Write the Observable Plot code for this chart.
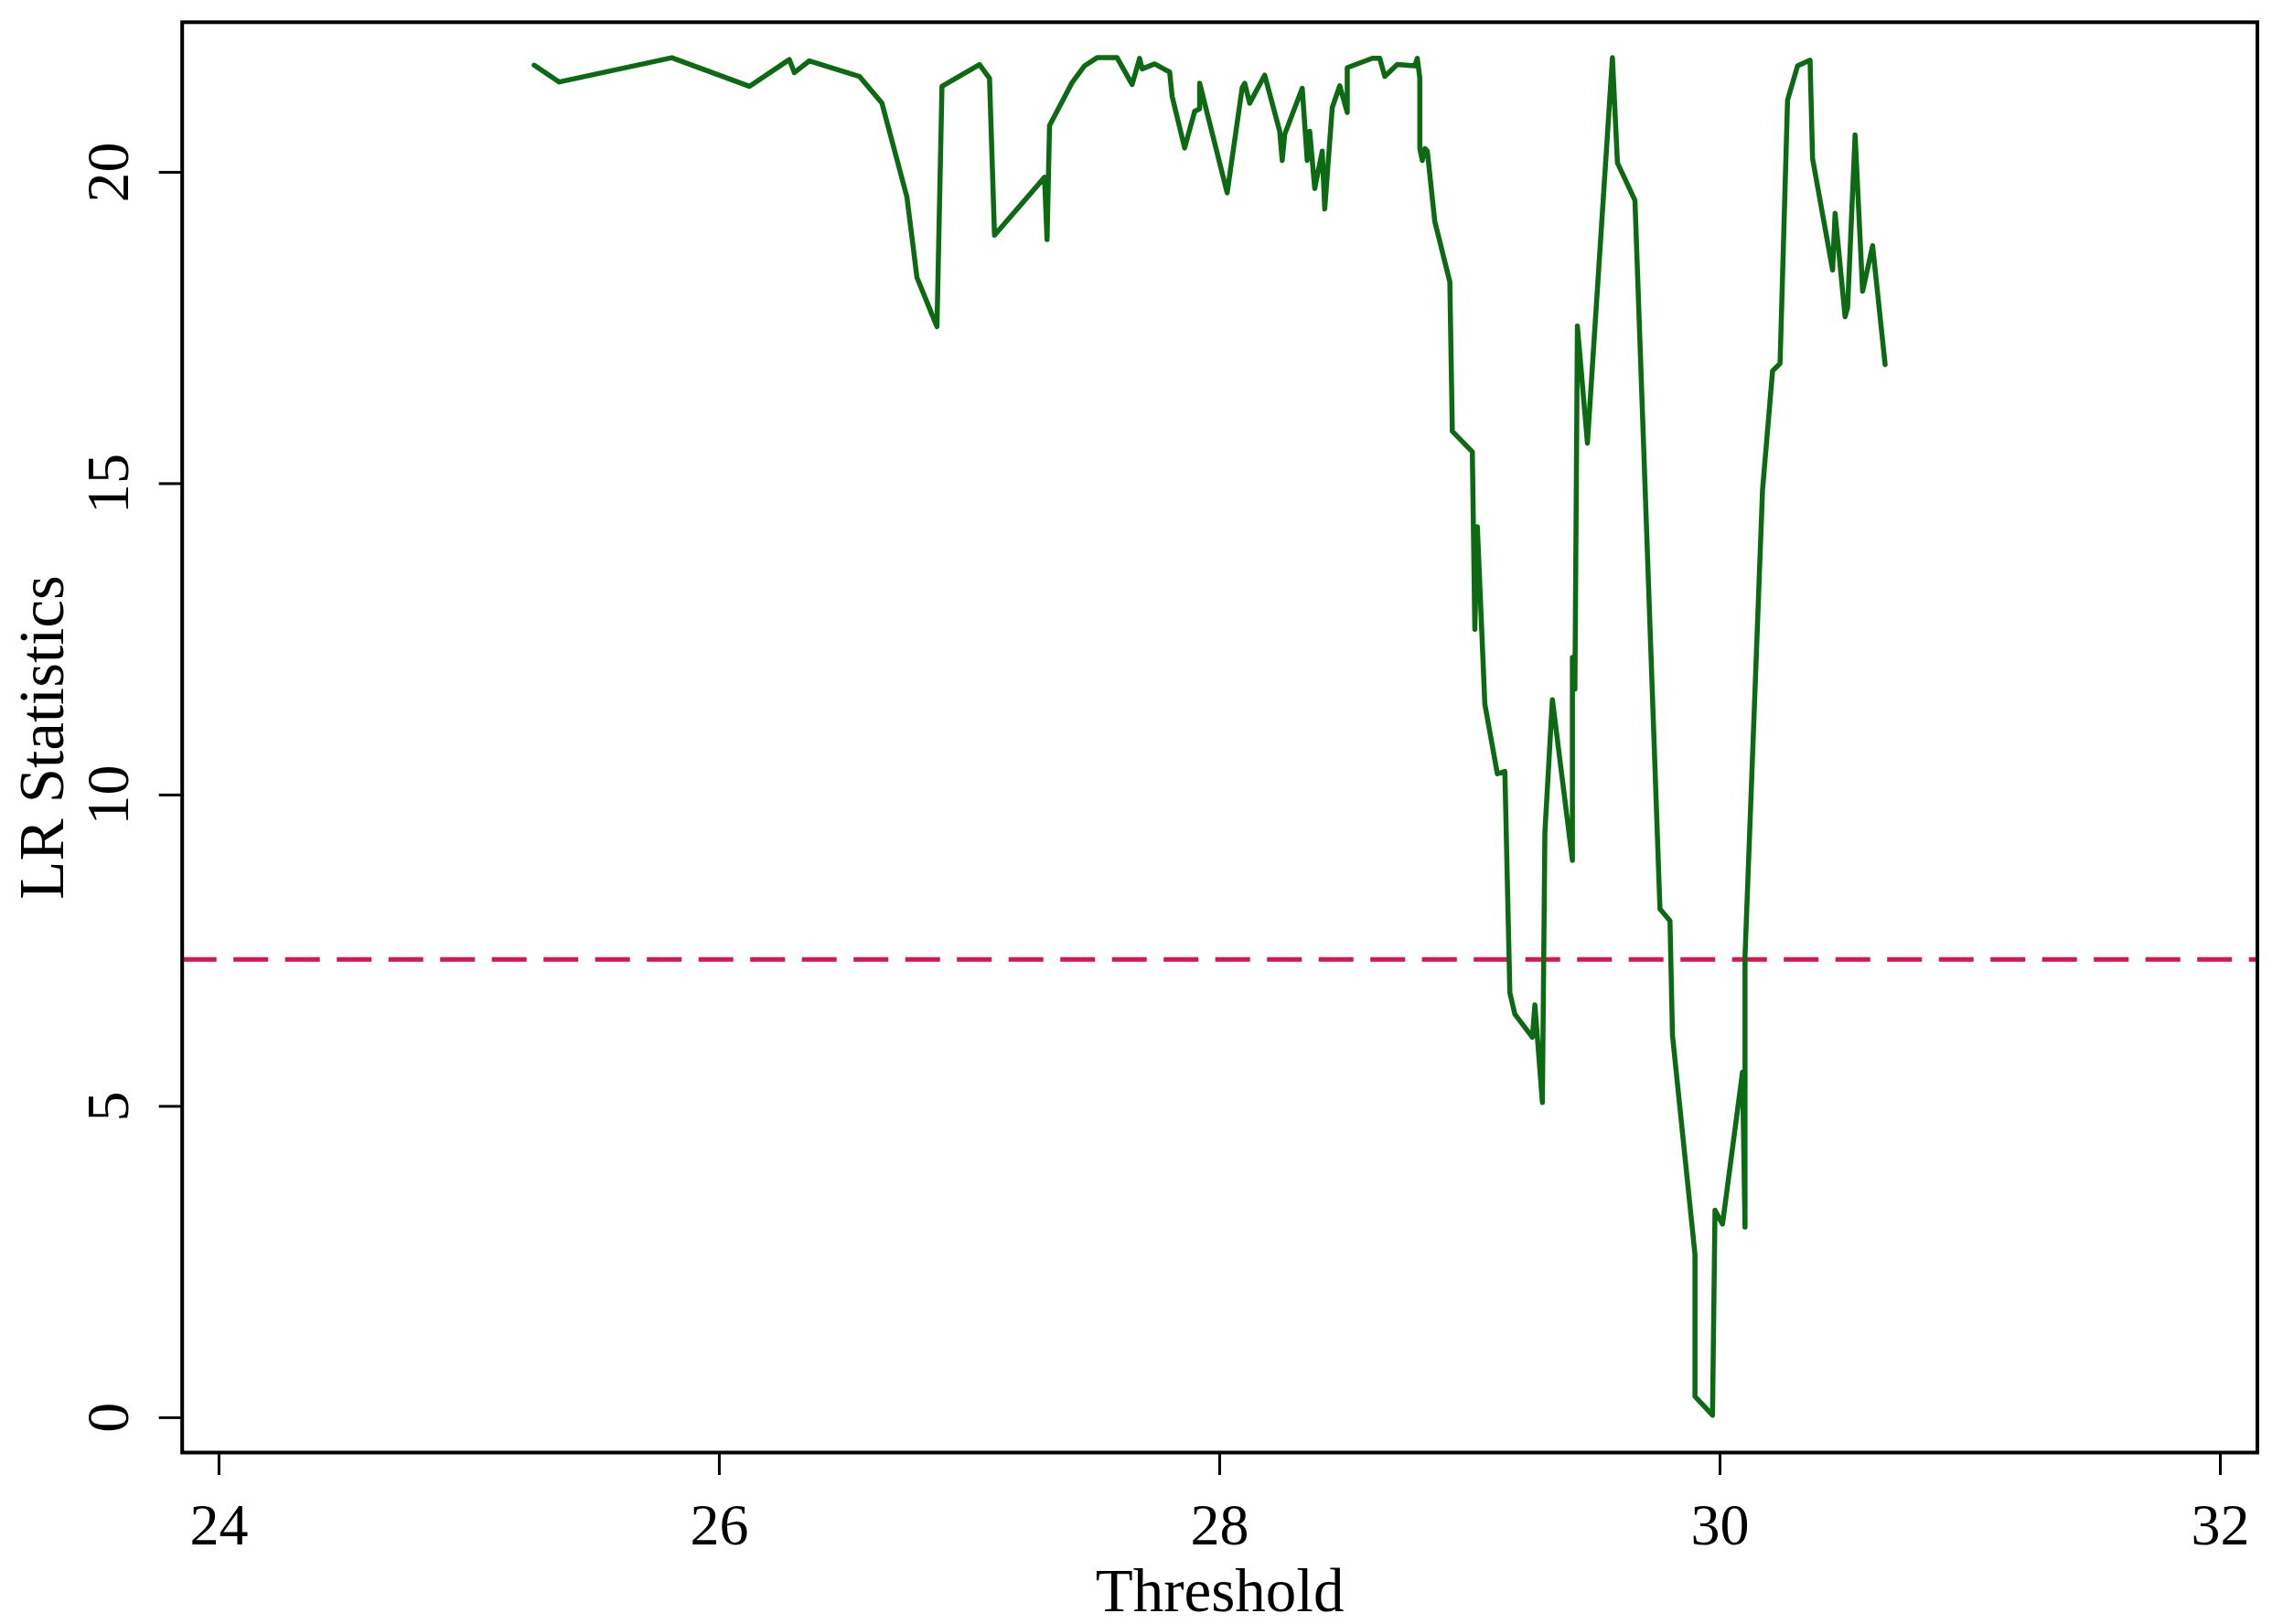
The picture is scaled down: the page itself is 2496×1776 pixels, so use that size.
<!DOCTYPE html>
<html>
<head>
<meta charset="utf-8">
<script src="https://cdn.jsdelivr.net/npm/d3@7"></script>
<script src="https://cdn.jsdelivr.net/npm/@observablehq/plot@0.6"></script>
<style>
  html, body { margin: 0; padding: 0; background: #ffffff; }
  svg { display: block; }
</style>
</head>
<body>
<div id="chart"></div>
<script>
// Threshold values (x) and LR statistics (y)
const threshold = [
  25.26, 25.36, 25.81, 26.12, 26.28, 26.30, 26.36, 26.56, 26.65, 26.75,
  26.79, 26.87, 26.89, 27.04, 27.08, 27.10, 27.30, 27.31, 27.32, 27.41,
  27.46, 27.51, 27.59, 27.65, 27.68, 27.69, 27.74, 27.80, 27.81, 27.86,
  27.90, 27.92, 27.92, 28.03, 28.09, 28.10, 28.12, 28.18, 28.24, 28.25,
  28.26, 28.33, 28.35, 28.36, 28.38, 28.41, 28.42, 28.45, 28.48, 28.51,
  28.51, 28.61, 28.64, 28.66, 28.71, 28.78, 28.79, 28.80, 28.80, 28.81,
  28.82, 28.83, 28.86, 28.92, 28.93, 29.01, 29.02, 29.03, 29.06, 29.11,
  29.14, 29.16, 29.18, 29.25, 29.26, 29.29, 29.30, 29.33, 29.41, 29.41,
  29.42, 29.43, 29.47, 29.51, 29.57, 29.59, 29.66, 29.76, 29.80, 29.81,
  29.90, 29.90, 29.97, 29.98, 30.01, 30.09, 30.10, 30.10, 30.17, 30.21,
  30.24, 30.27, 30.31, 30.36, 30.37, 30.45, 30.46, 30.50, 30.51, 30.54,
  30.57, 30.61, 30.66
];
const lrStat = [
  21.72, 21.45, 21.84, 21.38, 21.81, 21.60, 21.79, 21.54, 21.11, 19.60,
  18.31, 17.52, 21.38, 21.73, 21.51, 18.99, 19.92, 18.92, 20.75, 21.44,
  21.71, 21.84, 21.84, 21.41, 21.83, 21.66, 21.74, 21.61, 21.22, 20.39,
  20.98, 21.02, 21.43, 19.67, 21.36, 21.43, 21.11, 21.56, 20.66, 20.19,
  20.61, 21.35, 20.19, 20.66, 19.74, 20.34, 19.41, 21.04, 21.39, 20.96,
  21.68, 21.83, 21.83, 21.54, 21.73, 21.71, 21.83, 21.51, 20.38, 20.19,
  20.38, 20.34, 19.21, 18.24, 15.84, 15.51, 12.66, 14.31, 11.46, 10.34,
  10.38, 6.82, 6.48, 6.11, 6.63, 5.06, 9.40, 11.53, 8.95, 12.21,
  11.70, 17.53, 15.65, 18.13, 21.84, 20.15, 19.55, 8.17, 7.98, 6.14,
  2.62, 0.34, 0.04, 3.33, 3.11, 5.55, 3.06, 7.42, 14.90, 16.81,
  16.93, 21.16, 21.71, 21.80, 20.22, 18.43, 19.34, 17.68, 17.83, 20.60,
  18.09, 18.82, 16.91
];
const criticalValue = 7.36;
const xTicks = [24, 26, 28, 30, 32];
const yTicks = [0, 5, 10, 15, 20];
const xTitle = "Threshold";
const yTitle = "LR Statistics";

const data = threshold.map((t, i) => ({threshold: t, lr: lrStat[i]}));

const chart = Plot.plot({
  width: 2496,
  height: 1776,
  marginTop: 23.8,
  marginRight: 28.5,
  marginBottom: 188,
  marginLeft: 198.7,
  style: {fontFamily: "'Liberation Serif', serif", background: "#ffffff", color: "#000000"},
  x: {domain: [23.853, 32.148]},
  y: {domain: [-0.56, 22.41]},
  marks: [
    Plot.ruleY([criticalValue], {stroke: "#d6174d", strokeWidth: 5, strokeDasharray: "38,18.5"}),
    Plot.line(data, {x: "threshold", y: "lr", stroke: "#0b6a12", strokeWidth: 5.5}),
    Plot.frame({stroke: "#000000", strokeWidth: 4}),
    Plot.axisX({ticks: xTicks, tickSize: 25, tickPadding: 30, fontSize: 64, label: null, strokeWidth: 3, tickFormat: d => String(d)}),
    Plot.axisY({ticks: yTicks, tickSize: 25, label: null, strokeWidth: 3, tickFormat: () => ""}),
    Plot.text(yTicks, {y: d => d, text: d => String(d), frameAnchor: "left", dx: -80.7, rotate: -90,
                       textAnchor: "middle", lineAnchor: "middle", fontSize: 66}),
    Plot.text([xTitle], {text: d => d, frameAnchor: "bottom", dy: 173, lineAnchor: "bottom", fontSize: 67}),
    Plot.text([yTitle], {text: d => d, frameAnchor: "left", dx: -130.7, rotate: -90, lineAnchor: "bottom", textAnchor: "middle", fontSize: 69})
  ]
});
document.getElementById("chart").appendChild(chart);
</script>
</body>
</html>
